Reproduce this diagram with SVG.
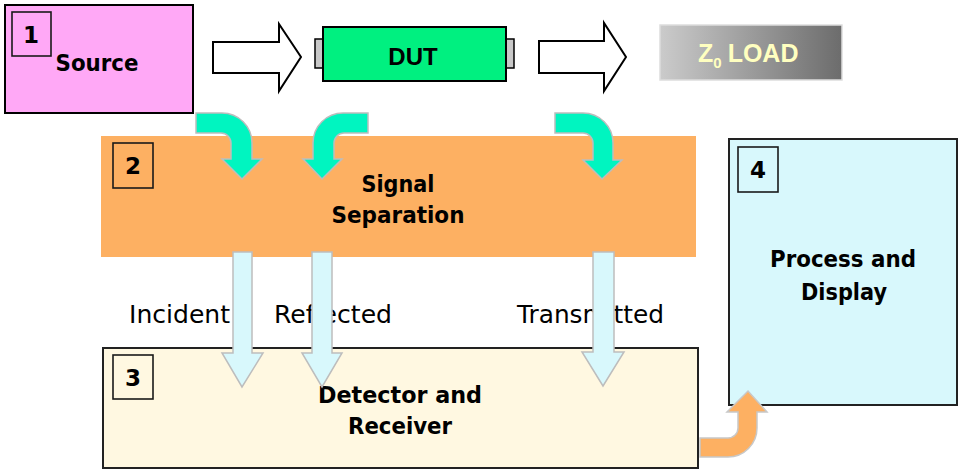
<svg xmlns="http://www.w3.org/2000/svg" width="958" height="473" viewBox="0 0 958 473">
<defs>
<linearGradient id="loadGrad" x1="0" y1="0" x2="1" y2="0">
<stop offset="0" stop-color="#CBCBCB"/>
<stop offset="1" stop-color="#6C6C6C"/>
</linearGradient>
</defs>
<style>
.lbl{font-family:"Comic Sans MS","DejaVu Sans",sans-serif;fill:#000}
.b{font-weight:bold}
.num{font-family:"Comic Sans MS","DejaVu Sans",sans-serif;font-weight:bold;font-size:23px;text-anchor:middle}
.numbox{fill:none;stroke:#1a1a1a;stroke-width:1.6}
.hollow{fill:#fff;stroke:#000;stroke-width:2}
.teal{fill:#00F5C0;stroke:#BDBDBD;stroke-width:1.5}
.blue{fill:#D8F8FC;stroke:#BDBDBD;stroke-width:1.5}
.orng{fill:#FDB062;stroke:#C8C8C8;stroke-width:1.5}
.arial{font-family:"Liberation Sans",Arial,sans-serif;font-weight:bold}
</style>

<g id="source">
<rect x="5" y="5" width="188" height="108" fill="#FFA8F6" stroke="#000" stroke-width="2"/>
<rect class="numbox" x="12" y="12" width="39" height="44"/>
<text class="num" x="31" y="43">1</text>
<text class="lbl b" x="97" y="71" font-size="23" text-anchor="middle" textLength="83" lengthAdjust="spacingAndGlyphs">Source</text>
</g>

<g id="dut">
<rect x="315" y="39" width="9" height="29" fill="#C8C8C8" stroke="#000" stroke-width="1.5"/>
<rect x="505" y="39" width="9" height="29" fill="#C8C8C8" stroke="#000" stroke-width="1.5"/>
<rect x="323" y="27" width="183" height="54" fill="#00F080" stroke="#000" stroke-width="2"/>
<text class="arial" x="413" y="65" font-size="24" text-anchor="middle">DUT</text>
</g>

<g id="load">
<rect x="660" y="25" width="182" height="55" fill="url(#loadGrad)" stroke="#DDDDDD" stroke-width="1.5"/>
<text class="arial" x="698" y="62" font-size="25" fill="#FFFFC0">Z<tspan font-size="15" dy="6">0</tspan><tspan dy="-6" dx="6">LOAD</tspan></text>
</g>

<g id="signal-separation">
<rect x="101" y="136" width="595" height="121" fill="#FDB062"/>
<rect class="numbox" x="113" y="143" width="40" height="45"/>
<text class="num" x="133" y="174">2</text>
<text class="lbl b" x="398" y="192" font-size="23" text-anchor="middle" textLength="73" lengthAdjust="spacingAndGlyphs">Signal</text>
<text class="lbl b" x="398" y="223" font-size="23" text-anchor="middle" textLength="133" lengthAdjust="spacingAndGlyphs">Separation</text>
</g>

<g id="detector-receiver">
<rect x="103" y="348" width="595" height="120" fill="#FFF8E1" stroke="#222" stroke-width="2"/>
<rect class="numbox" x="113" y="355" width="40" height="44"/>
<text class="num" x="133" y="386">3</text>
<text class="lbl b" x="400" y="403" font-size="23" text-anchor="middle" textLength="164" lengthAdjust="spacingAndGlyphs">Detector and</text>
<text class="lbl b" x="400" y="434" font-size="23" text-anchor="middle" textLength="104" lengthAdjust="spacingAndGlyphs">Receiver</text>
</g>

<g id="process-display">
<rect x="729" y="139" width="228" height="266" fill="#D8F8FC" stroke="#222" stroke-width="2"/>
<rect class="numbox" x="738" y="147" width="40" height="45"/>
<text class="num" x="758" y="178">4</text>
<text class="lbl b" x="843" y="267" font-size="23" text-anchor="middle" textLength="146" lengthAdjust="spacingAndGlyphs">Process and</text>
<text class="lbl b" x="844" y="300" font-size="23" text-anchor="middle" textLength="86" lengthAdjust="spacingAndGlyphs">Display</text>
</g>

<g id="labels">
<text class="lbl" x="129" y="323" font-size="24" textLength="101" lengthAdjust="spacingAndGlyphs">Incident</text>
<text class="lbl" x="274" y="323" font-size="24" textLength="118" lengthAdjust="spacingAndGlyphs">Reflected</text>
<text class="lbl" x="517" y="323" font-size="24" textLength="147" lengthAdjust="spacingAndGlyphs">Transmitted</text>
</g>

<g id="connectors">
<path class="hollow" d="M213,42 H279 V24 L301,57 L279,91 V73 H213 Z"/>
<path class="hollow" d="M539,41 H604 V23 L626,57 L604,91 V73 H539 Z"/>
<path class="teal" d="M196,113 H222 A30,30 0 0 1 252,143 V159 H262 L242,179 L222,159 H231 V143 A10,10 0 0 0 221,133 H196 Z"/>
<path class="teal" d="M368,113 H343 A30,30 0 0 0 313,143 V159 H303 L322,179 L342,159 H334 V143 A10,10 0 0 1 344,133 H368 Z"/>
<path class="teal" d="M555,113 H583 A30,30 0 0 1 613,143 V160 H622 L602,179 L583,160 H593 V143 A10,10 0 0 0 583,133 H555 Z"/>
<path class="blue" d="M233,252 H252 V353 H263 L242,387 L222,353 H233 Z"/>
<path class="blue" d="M312,252 H332 V353 H342 L322,387 L302,353 H312 Z"/>
<path class="blue" d="M593,252 H614 V352 H624 L603,386 L582,352 H593 Z"/>
<path class="orng" d="M700,438 H728 A10,10 0 0 0 738,428 V412 H727 L748,391 L767,412 H757 V428 A29,29 0 0 1 728,457 H700 Z"/>
</g>
</svg>
